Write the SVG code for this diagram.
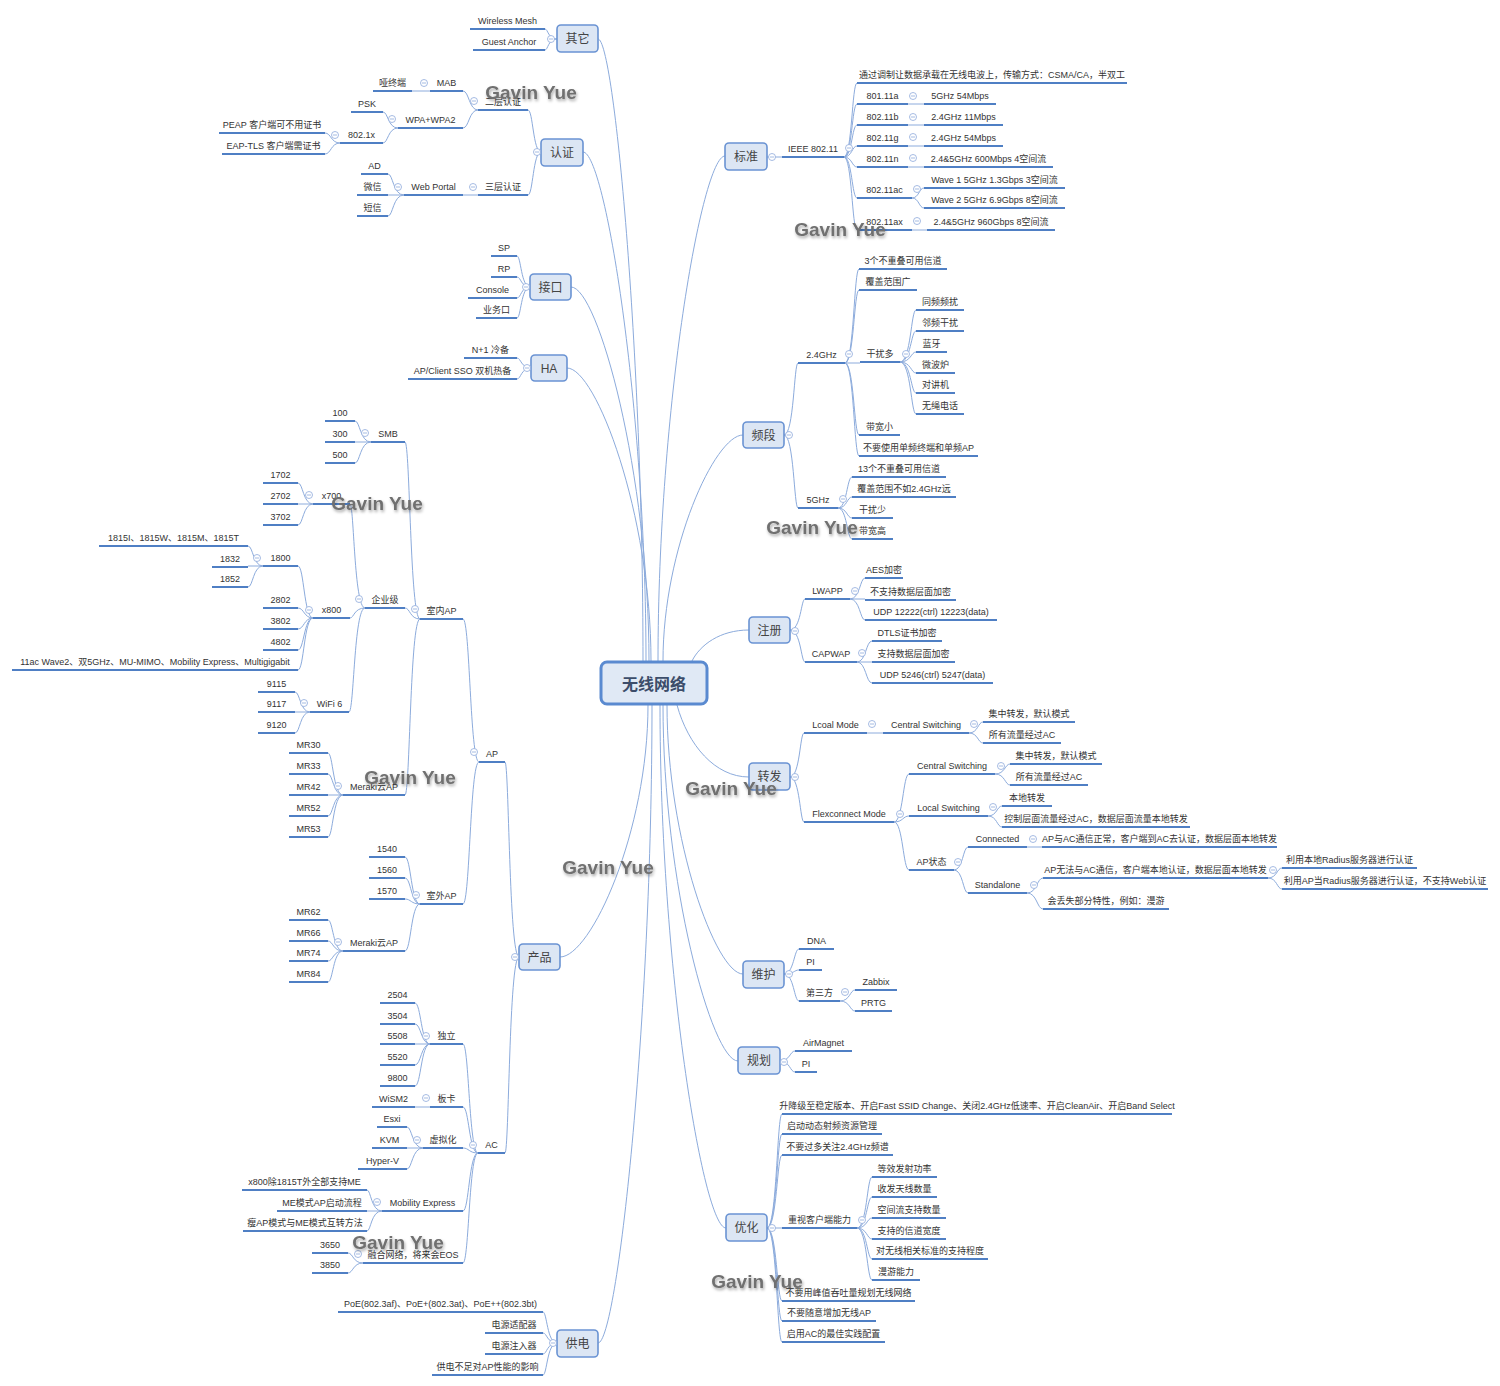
<svg xmlns="http://www.w3.org/2000/svg" xmlns:xlink="http://www.w3.org/1999/xlink" width="1500" height="1386" viewBox="0 0 1500 1386">
<style>
.t{font-family:"Liberation Sans","Noto Sans CJK SC",sans-serif;font-size:9px;fill:#333;text-anchor:middle}
.u{stroke:#4f7fc4;stroke-width:2;fill:none}
.c{stroke:#8cabdc;stroke-width:1;fill:none}
.b{fill:#dce6f4;stroke:#6a93d3;stroke-width:1.6}
.bt{font-family:"Liberation Sans","Noto Sans CJK SC",sans-serif;font-size:12px;fill:#444;text-anchor:middle}
.w{font-family:"Liberation Sans",sans-serif;font-weight:bold;font-size:19px;fill:#6f6f6f;text-anchor:middle}
</style>
<defs>
<g id="m"><circle r="3.5" fill="#fff" stroke="#8eaadb" stroke-width="0.8"/><path d="M-2 0H2" stroke="#8eaadb" stroke-width="0.8"/></g>
<filter id="sh" x="-10%" y="-40%" width="120%" height="180%"><feDropShadow dx="1" dy="2" stdDeviation="1.5" flood-color="#000" flood-opacity="0.35"/></filter>
</defs>
<rect width="1500" height="1386" fill="#fff"/>
<g id="connectors" class="c">
<path d="M643 661C643 350 614 39 598 39"/>
<path d="M646 661C646 406 605 152 583 152"/>
<path d="M649 661C649 474 598 287 571 287"/>
<path d="M651 661C651 514 596 368 567 368"/>
<path d="M658 661C658 408 702 156 725 156"/>
<path d="M663 661C663 548 715 435 743 435"/>
<path d="M692 661C700 645 720 630 749 630"/>
<path d="M677 705C688 745 715 777 749 777"/>
<path d="M667 705C667 840 716 974 743 974"/>
<path d="M663 705C663 883 712 1061 738 1061"/>
<path d="M660 705C660 966 703 1228 726 1228"/>
<path d="M648 705C648 831 591 957 560 957"/>
<path d="M652 705C652 1024 617 1343 598 1343"/>
<path d="M557 39C548 39 548 29 545 29M557 39C548 39 548 50 545 50"/>
<path d="M541 152C533 152 533 110 528 110M541 152C533 152 533 195 528 195"/>
<path d="M478 110C469 110 469 91 463 91M478 110C469 110 469 128 463 128M430 91H412"/>
<path d="M398 128C388 128 388 112 383 112M398 128C388 128 388 143 383 143"/>
<path d="M340 143C331 143 331 133 325 133M340 143C331 143 331 154 325 154"/>
<path d="M478 195H463M404 195C393 195 393 174 388 174M404 195H388M404 195C393 195 393 216 388 216"/>
<path d="M530 287C521 287 521 256 517 256M530 287C521 287 521 277 517 277M530 287C521 287 521 298 517 298M530 287C521 287 521 318 517 318"/>
<path d="M531 368C521 368 521 358 517 358M531 368C521 368 521 379 517 379"/>
<path d="M519 957C509 957 509 762 505 762M519 957C509 957 509 1153 505 1153"/>
<path d="M479 762C470 762 470 619 463 619M479 762C470 762 470 904 463 904"/>
<path d="M420 619C410 619 410 442 405 442M420 619C410 619 410 608 405 608M420 619C410 619 410 795 405 795"/>
<path d="M371 442C360 442 360 421 355 421M371 442H355M371 442C360 442 360 463 355 463"/>
<path d="M365 608C354 608 354 504 350 504M365 608C354 608 354 618 350 618M365 608C354 608 354 712 349 712"/>
<path d="M313 504C303 504 303 483 298 483M313 504H298M313 504C303 504 303 525 298 525"/>
<path d="M313 618C304 618 304 566 298 566M313 618C304 618 304 608 298 608M313 618C304 618 304 629 298 629M313 618C304 618 304 650 298 650M313 618C304 618 304 670 298 670"/>
<path d="M263 566C253 566 253 546 248 546M263 566H248M263 566C253 566 253 587 248 587"/>
<path d="M310 712C300 712 300 692 295 692M310 712H295M310 712C300 712 300 733 295 733"/>
<path d="M343 795C333 795 333 753 328 753M343 795C333 795 333 774 328 774M343 795H328M343 795C333 795 333 816 328 816M343 795C333 795 333 837 328 837"/>
<path d="M420 904C411 904 411 857 405 857M420 904C411 904 411 878 405 878M420 904C411 904 411 899 405 899M420 904C411 904 411 951 405 951"/>
<path d="M343 951C333 951 333 920 328 920M343 951C333 951 333 941 328 941M343 951C333 951 333 961 328 961M343 951C333 951 333 982 328 982"/>
<path d="M478 1153C469 1153 469 1044 463 1044M478 1153C469 1153 469 1107 463 1107M478 1153C469 1153 469 1148 463 1148M478 1153C469 1153 469 1211 463 1211M478 1153C469 1153 469 1263 463 1263"/>
<path d="M430 1044C421 1044 421 1003 415 1003M430 1044C421 1044 421 1024 415 1024M430 1044H415M430 1044C421 1044 421 1065 415 1065M430 1044C421 1044 421 1086 415 1086M430 1107H415"/>
<path d="M423 1148C412 1148 412 1127 407 1127M423 1148H407M423 1148C412 1148 412 1169 407 1169"/>
<path d="M382 1211C371 1211 371 1190 367 1190M382 1211H367M382 1211C371 1211 371 1231 367 1231"/>
<path d="M363 1263C353 1263 353 1253 348 1253M363 1263C353 1263 353 1273 348 1273"/>
<path d="M557 1343C547 1343 547 1312 543 1312M557 1343C547 1343 547 1333 543 1333M557 1343C547 1343 547 1354 543 1354M557 1343C547 1343 547 1375 543 1375"/>
<path d="M767 157H782M844 157C852 157 852 83 857 83M844 157C852 157 852 104 857 104M844 157C852 157 852 125 857 125M844 157C852 157 852 146 857 146M844 157C852 157 852 167 857 167M844 157C852 157 852 198 857 198M844 157C852 157 852 230 857 230"/>
<path d="M908 104H924M908 125H924M908 146H924M908 167H924M912 198C919 198 919 188 924 188M912 198C919 198 919 208 924 208M912 230H927"/>
<path d="M784 435C794 435 794 363 798 363M784 435C794 435 794 508 798 508"/>
<path d="M845 363C854 363 854 269 859 269M845 363C854 363 854 290 859 290M845 363H860M845 363C854 363 854 435 859 435M845 363C854 363 854 456 859 456"/>
<path d="M900 362C911 362 911 310 916 310M900 362C911 362 911 331 916 331M900 362C911 362 911 352 916 352M900 362C911 362 911 373 916 373M900 362C911 362 911 393 916 393M900 362C911 362 911 414 916 414"/>
<path d="M838 508C847 508 847 477 852 477M838 508C847 508 847 497 852 497M838 508C847 508 847 518 852 518M838 508C847 508 847 539 852 539"/>
<path d="M790 630C801 630 801 599 805 599M790 630C801 630 801 662 805 662"/>
<path d="M850 599C860 599 860 578 865 578M850 599H865M850 599C860 599 860 620 865 620"/>
<path d="M857 662C866 662 866 641 872 641M857 662H872M857 662C866 662 866 683 872 683"/>
<path d="M790 777C800 777 800 733 804 733M790 777C800 777 800 822 804 822M867 733H883M969 733C978 733 978 722 983 722M969 733C978 733 978 743 983 743"/>
<path d="M894 822C903 822 903 774 909 774M894 822C903 822 903 816 909 816M894 822C903 822 903 870 909 870"/>
<path d="M995 774C1005 774 1005 764 1010 764M995 774C1005 774 1005 785 1010 785M988 816C997 816 997 806 1002 806M988 816C997 816 997 827 1002 827"/>
<path d="M954 870C963 870 963 847 968 847M954 870C963 870 963 893 968 893M1027 847H1042M1027 893C1037 893 1037 878 1043 878M1027 893C1037 893 1037 909 1043 909M1268 878C1277 878 1277 868 1282 868M1268 878C1277 878 1277 889 1282 889"/>
<path d="M784 974C794 974 794 949 799 949M784 974C794 974 794 970 799 970M784 974C794 974 794 1001 799 1001M840 1001C850 1001 850 990 855 990M840 1001C850 1001 850 1011 855 1011"/>
<path d="M780 1061C790 1061 790 1051 795 1051M780 1061C790 1061 790 1072 795 1072"/>
<path d="M767 1228C777 1228 777 1114 782 1114M767 1228C777 1228 777 1134 782 1134M767 1228C777 1228 777 1155 782 1155M767 1228H782M767 1228C777 1228 777 1301 782 1301M767 1228C777 1228 777 1321 782 1321M767 1228C777 1228 777 1342 782 1342"/>
<path d="M857 1228C867 1228 867 1177 872 1177M857 1228C867 1228 867 1197 872 1197M857 1228C867 1228 867 1218 872 1218M857 1228C867 1228 867 1239 872 1239M857 1228C867 1228 867 1259 872 1259M857 1228C867 1228 867 1280 872 1280"/>
</g>
<g id="main"><rect x="601" y="662" width="106" height="42" rx="6" fill="#e0e9f5" stroke="#5a8ad0" stroke-width="3"/><text x="654" y="690" font-family="'Noto Sans CJK SC',sans-serif" font-size="16" font-weight="bold" fill="#3c4d6a" text-anchor="middle">无线网络</text></g>
<g id="b-qita"><rect class="b" x="557" y="25" width="41" height="27" rx="4"/><text class="bt" x="577.5" y="43">其它</text><use href="#m" x="551" y="39"/></g>
<g id="n-wm"><path class="u" d="M470 29H545"/><text class="t" x="507.5" y="23.5">Wireless Mesh</text></g>
<g id="n-ga"><path class="u" d="M473 50H545"/><text class="t" x="509" y="44.5">Guest Anchor</text></g>
<g id="b-renzheng"><rect class="b" x="541" y="139" width="42" height="27" rx="4"/><text class="bt" x="562" y="157">认证</text><use href="#m" x="537" y="152"/></g>
<g id="n-l2"><path class="u" d="M478 110H528"/><text class="t" x="503" y="104.5">二层认证</text><use href="#m" x="474" y="101"/></g>
<g id="n-mab"><path class="u" d="M430 91H463"/><text class="t" x="446.5" y="85.5">MAB</text><use href="#m" x="424" y="83"/></g>
<g id="n-dumb"><path class="u" d="M373 91H412"/><text class="t" x="392.5" y="85.5">哑终端</text></g>
<g id="n-wpa"><path class="u" d="M398 128H463"/><text class="t" x="430.5" y="122.5">WPA+WPA2</text><use href="#m" x="392" y="119"/></g>
<g id="n-psk"><path class="u" d="M351 112H383"/><text class="t" x="367" y="106.5">PSK</text></g>
<g id="n-8021x"><path class="u" d="M340 143H383"/><text class="t" x="361.5" y="137.5">802.1x</text><use href="#m" x="335" y="135"/></g>
<g id="n-peap"><path class="u" d="M219 133H325"/><text class="t" x="272" y="127.5">PEAP 客户端可不用证书</text></g>
<g id="n-eap"><path class="u" d="M222 154H325"/><text class="t" x="273.5" y="148.5">EAP-TLS 客户端需证书</text></g>
<g id="n-l3"><path class="u" d="M478 195H528"/><text class="t" x="503" y="189.5">三层认证</text><use href="#m" x="473" y="187"/></g>
<g id="n-wp"><path class="u" d="M404 195H463"/><text class="t" x="433.5" y="189.5">Web Portal</text><use href="#m" x="398" y="187"/></g>
<g id="n-ad"><path class="u" d="M361 174H388"/><text class="t" x="374.5" y="168.5">AD</text></g>
<g id="n-wx"><path class="u" d="M357 195H388"/><text class="t" x="372.5" y="189.5">微信</text></g>
<g id="n-sms"><path class="u" d="M357 216H388"/><text class="t" x="372.5" y="210.5">短信</text></g>
<g id="b-jiekou"><rect class="b" x="530" y="274" width="41" height="26" rx="4"/><text class="bt" x="550.5" y="291.5">接口</text><use href="#m" x="526" y="287"/></g>
<g id="n-sp"><path class="u" d="M491 256H517"/><text class="t" x="504" y="250.5">SP</text></g>
<g id="n-rp"><path class="u" d="M491 277H517"/><text class="t" x="504" y="271.5">RP</text></g>
<g id="n-con"><path class="u" d="M468 298H517"/><text class="t" x="492.5" y="292.5">Console</text></g>
<g id="n-biz"><path class="u" d="M476 318H517"/><text class="t" x="496.5" y="312.5">业务口</text></g>
<g id="b-ha"><rect class="b" x="531" y="355" width="36" height="26" rx="4"/><text class="bt" x="549" y="372.5">HA</text><use href="#m" x="527" y="368"/></g>
<g id="n-n1"><path class="u" d="M464 358H517"/><text class="t" x="490.5" y="352.5">N+1 冷备</text></g>
<g id="n-sso"><path class="u" d="M408 379H517"/><text class="t" x="462.5" y="373.5">AP/Client SSO 双机热备</text></g>
<g id="b-chanpin"><rect class="b" x="519" y="944" width="41" height="26" rx="4"/><text class="bt" x="539.5" y="961.5">产品</text><use href="#m" x="515" y="957"/></g>
<g id="n-ap"><path class="u" d="M479 762H505"/><text class="t" x="492" y="756.5">AP</text><use href="#m" x="474" y="752"/></g>
<g id="n-indoor"><path class="u" d="M420 619H463"/><text class="t" x="441.5" y="613.5">室内AP</text><use href="#m" x="415" y="609"/></g>
<g id="n-smb"><path class="u" d="M371 442H405"/><text class="t" x="388" y="436.5">SMB</text><use href="#m" x="365" y="433"/></g>
<g id="n-100"><path class="u" d="M325 421H355"/><text class="t" x="340" y="415.5">100</text></g>
<g id="n-300"><path class="u" d="M325 442H355"/><text class="t" x="340" y="436.5">300</text></g>
<g id="n-500"><path class="u" d="M325 463H355"/><text class="t" x="340" y="457.5">500</text></g>
<g id="n-ent"><path class="u" d="M365 608H405"/><text class="t" x="385" y="602.5">企业级</text><use href="#m" x="359" y="599"/></g>
<g id="n-x700"><path class="u" d="M313 504H350"/><text class="t" x="331.5" y="498.5">x700</text><use href="#m" x="309" y="495"/></g>
<g id="n-1702"><path class="u" d="M263 483H298"/><text class="t" x="280.5" y="477.5">1702</text></g>
<g id="n-2702"><path class="u" d="M263 504H298"/><text class="t" x="280.5" y="498.5">2702</text></g>
<g id="n-3702"><path class="u" d="M263 525H298"/><text class="t" x="280.5" y="519.5">3702</text></g>
<g id="n-x800"><path class="u" d="M313 618H350"/><text class="t" x="331.5" y="612.5">x800</text><use href="#m" x="309" y="610"/></g>
<g id="n-1800"><path class="u" d="M263 566H298"/><text class="t" x="280.5" y="560.5">1800</text><use href="#m" x="257" y="558"/></g>
<g id="n-1815"><path class="u" d="M99 546H248"/><text class="t" x="173.5" y="540.5">1815I、1815W、1815M、1815T</text></g>
<g id="n-1832"><path class="u" d="M212 567H248"/><text class="t" x="230" y="561.5">1832</text></g>
<g id="n-1852"><path class="u" d="M212 587H248"/><text class="t" x="230" y="581.5">1852</text></g>
<g id="n-2802"><path class="u" d="M263 608H298"/><text class="t" x="280.5" y="602.5">2802</text></g>
<g id="n-3802"><path class="u" d="M263 629H298"/><text class="t" x="280.5" y="623.5">3802</text></g>
<g id="n-4802"><path class="u" d="M263 650H298"/><text class="t" x="280.5" y="644.5">4802</text></g>
<g id="n-11ac"><path class="u" d="M12 670H298"/><text class="t" x="155" y="664.5">11ac Wave2、双5GHz、MU-MIMO、Mobility Express、Multigigabit</text></g>
<g id="n-wifi6"><path class="u" d="M310 712H349"/><text class="t" x="329.5" y="706.5">WiFi 6</text><use href="#m" x="304" y="703"/></g>
<g id="n-9115"><path class="u" d="M258 692H295"/><text class="t" x="276.5" y="686.5">9115</text></g>
<g id="n-9117"><path class="u" d="M258 712H295"/><text class="t" x="276.5" y="706.5">9117</text></g>
<g id="n-9120"><path class="u" d="M258 733H295"/><text class="t" x="276.5" y="727.5">9120</text></g>
<g id="n-merakiin"><path class="u" d="M343 795H405"/><text class="t" x="374" y="789.5">Meraki云AP</text><use href="#m" x="338" y="786"/></g>
<g id="n-mr30"><path class="u" d="M289 753H328"/><text class="t" x="308.5" y="747.5">MR30</text></g>
<g id="n-mr33"><path class="u" d="M289 774H328"/><text class="t" x="308.5" y="768.5">MR33</text></g>
<g id="n-mr42"><path class="u" d="M289 795H328"/><text class="t" x="308.5" y="789.5">MR42</text></g>
<g id="n-mr52"><path class="u" d="M289 816H328"/><text class="t" x="308.5" y="810.5">MR52</text></g>
<g id="n-mr53"><path class="u" d="M289 837H328"/><text class="t" x="308.5" y="831.5">MR53</text></g>
<g id="n-outdoor"><path class="u" d="M420 904H463"/><text class="t" x="441.5" y="898.5">室外AP</text><use href="#m" x="416" y="895"/></g>
<g id="n-1540"><path class="u" d="M369 857H405"/><text class="t" x="387" y="851.5">1540</text></g>
<g id="n-1560"><path class="u" d="M369 878H405"/><text class="t" x="387" y="872.5">1560</text></g>
<g id="n-1570"><path class="u" d="M369 899H405"/><text class="t" x="387" y="893.5">1570</text></g>
<g id="n-merakiout"><path class="u" d="M343 951H405"/><text class="t" x="374" y="945.5">Meraki云AP</text><use href="#m" x="338" y="942"/></g>
<g id="n-mr62"><path class="u" d="M289 920H328"/><text class="t" x="308.5" y="914.5">MR62</text></g>
<g id="n-mr66"><path class="u" d="M289 941H328"/><text class="t" x="308.5" y="935.5">MR66</text></g>
<g id="n-mr74"><path class="u" d="M289 961H328"/><text class="t" x="308.5" y="955.5">MR74</text></g>
<g id="n-mr84"><path class="u" d="M289 982H328"/><text class="t" x="308.5" y="976.5">MR84</text></g>
<g id="n-ac"><path class="u" d="M478 1153H505"/><text class="t" x="491.5" y="1147.5">AC</text><use href="#m" x="473" y="1145"/></g>
<g id="n-duli"><path class="u" d="M430 1044H463"/><text class="t" x="446.5" y="1038.5">独立</text><use href="#m" x="426" y="1036"/></g>
<g id="n-2504"><path class="u" d="M380 1003H415"/><text class="t" x="397.5" y="997.5">2504</text></g>
<g id="n-3504"><path class="u" d="M380 1024H415"/><text class="t" x="397.5" y="1018.5">3504</text></g>
<g id="n-5508"><path class="u" d="M380 1044H415"/><text class="t" x="397.5" y="1038.5">5508</text></g>
<g id="n-5520"><path class="u" d="M380 1065H415"/><text class="t" x="397.5" y="1059.5">5520</text></g>
<g id="n-9800"><path class="u" d="M380 1086H415"/><text class="t" x="397.5" y="1080.5">9800</text></g>
<g id="n-card"><path class="u" d="M430 1107H463"/><text class="t" x="446.5" y="1101.5">板卡</text><use href="#m" x="426" y="1098"/></g>
<g id="n-wism2"><path class="u" d="M372 1107H415"/><text class="t" x="393.5" y="1101.5">WiSM2</text></g>
<g id="n-virt"><path class="u" d="M423 1148H463"/><text class="t" x="443" y="1142.5">虚拟化</text><use href="#m" x="417" y="1140"/></g>
<g id="n-esxi"><path class="u" d="M377 1127H407"/><text class="t" x="392" y="1121.5">Esxi</text></g>
<g id="n-kvm"><path class="u" d="M372 1148H407"/><text class="t" x="389.5" y="1142.5">KVM</text></g>
<g id="n-hyperv"><path class="u" d="M358 1169H407"/><text class="t" x="382.5" y="1163.5">Hyper-V</text></g>
<g id="n-me"><path class="u" d="M382 1211H463"/><text class="t" x="422.5" y="1205.5">Mobility Express</text><use href="#m" x="377" y="1202"/></g>
<g id="n-me1"><path class="u" d="M242 1190H367"/><text class="t" x="304.5" y="1184.5">x800除1815T外全部支持ME</text></g>
<g id="n-me2"><path class="u" d="M277 1211H367"/><text class="t" x="322" y="1205.5">ME模式AP启动流程</text></g>
<g id="n-me3"><path class="u" d="M243 1231H367"/><text class="t" x="305" y="1225.5">瘦AP模式与ME模式互转方法</text></g>
<g id="n-conv"><path class="u" d="M363 1263H463"/><text class="t" x="413" y="1257.5">融合网络，将来会EOS</text><use href="#m" x="358" y="1254"/></g>
<g id="n-3650"><path class="u" d="M312 1253H348"/><text class="t" x="330" y="1247.5">3650</text></g>
<g id="n-3850"><path class="u" d="M312 1273H348"/><text class="t" x="330" y="1267.5">3850</text></g>
<g id="b-gongdian"><rect class="b" x="557" y="1330" width="41" height="27" rx="4"/><text class="bt" x="577.5" y="1348">供电</text><use href="#m" x="553" y="1343"/></g>
<g id="n-poe"><path class="u" d="M338 1312H543"/><text class="t" x="440.5" y="1306.5">PoE(802.3af)、PoE+(802.3at)、PoE++(802.3bt)</text></g>
<g id="n-adapter"><path class="u" d="M485 1333H543"/><text class="t" x="514" y="1327.5">电源适配器</text></g>
<g id="n-injector"><path class="u" d="M485 1354H543"/><text class="t" x="514" y="1348.5">电源注入器</text></g>
<g id="n-lack"><path class="u" d="M432 1375H543"/><text class="t" x="487.5" y="1369.5">供电不足对AP性能的影响</text></g>
<g id="b-biaozhun"><rect class="b" x="725" y="143" width="42" height="27" rx="4"/><text class="bt" x="746" y="161">标准</text><use href="#m" x="772" y="157"/></g>
<g id="n-ieee"><path class="u" d="M782 157H844"/><text class="t" x="813" y="151.5">IEEE 802.11</text><use href="#m" x="849" y="148"/></g>
<g id="n-mod"><path class="u" d="M857 83H1127"/><text class="t" x="992" y="77.5">通过调制让数据承载在无线电波上，传输方式：CSMA/CA，半双工</text></g>
<g id="n-11a"><path class="u" d="M857 104H908"/><text class="t" x="882.5" y="98.5">801.11a</text><use href="#m" x="913" y="96"/></g>
<g id="n-11a1"><path class="u" d="M924 104H996"/><text class="t" x="960" y="98.5">5GHz 54Mbps</text></g>
<g id="n-11b"><path class="u" d="M857 125H908"/><text class="t" x="882.5" y="119.5">802.11b</text><use href="#m" x="913" y="117"/></g>
<g id="n-11b1"><path class="u" d="M924 125H1003"/><text class="t" x="963.5" y="119.5">2.4GHz 11Mbps</text></g>
<g id="n-11g"><path class="u" d="M857 146H908"/><text class="t" x="882.5" y="140.5">802.11g</text><use href="#m" x="913" y="137"/></g>
<g id="n-11g1"><path class="u" d="M924 146H1003"/><text class="t" x="963.5" y="140.5">2.4GHz 54Mbps</text></g>
<g id="n-11n"><path class="u" d="M857 167H908"/><text class="t" x="882.5" y="161.5">802.11n</text><use href="#m" x="913" y="158"/></g>
<g id="n-11n1"><path class="u" d="M924 167H1053"/><text class="t" x="988.5" y="161.5">2.4&amp;5GHz 600Mbps 4空间流</text></g>
<g id="n-11ac"><path class="u" d="M857 198H912"/><text class="t" x="884.5" y="192.5">802.11ac</text><use href="#m" x="917" y="189"/></g>
<g id="n-w1"><path class="u" d="M924 188H1065"/><text class="t" x="994.5" y="182.5">Wave 1 5GHz 1.3Gbps 3空间流</text></g>
<g id="n-w2"><path class="u" d="M924 208H1065"/><text class="t" x="994.5" y="202.5">Wave 2 5GHz 6.9Gbps 8空间流</text></g>
<g id="n-11ax"><path class="u" d="M857 230H912"/><text class="t" x="884.5" y="224.5">802.11ax</text><use href="#m" x="917" y="221"/></g>
<g id="n-11ax1"><path class="u" d="M927 230H1055"/><text class="t" x="991" y="224.5">2.4&amp;5GHz 960Gbps 8空间流</text></g>
<g id="b-pinduan"><rect class="b" x="743" y="422" width="41" height="26" rx="4"/><text class="bt" x="763.5" y="439.5">频段</text><use href="#m" x="789" y="435"/></g>
<g id="n-24"><path class="u" d="M798 363H845"/><text class="t" x="821.5" y="357.5">2.4GHz</text><use href="#m" x="849" y="354"/></g>
<g id="n-24a"><path class="u" d="M859 269H947"/><text class="t" x="903" y="263.5">3个不重叠可用信道</text></g>
<g id="n-24b"><path class="u" d="M859 290H917"/><text class="t" x="888" y="284.5">覆盖范围广</text></g>
<g id="n-24c"><path class="u" d="M860 362H900"/><text class="t" x="880" y="356.5">干扰多</text><use href="#m" x="906" y="354"/></g>
<g id="n-i1"><path class="u" d="M916 310H964"/><text class="t" x="940" y="304.5">同频频扰</text></g>
<g id="n-i2"><path class="u" d="M916 331H964"/><text class="t" x="940" y="325.5">邻频干扰</text></g>
<g id="n-i3"><path class="u" d="M916 352H947"/><text class="t" x="931.5" y="346.5">蓝牙</text></g>
<g id="n-i4"><path class="u" d="M916 373H955"/><text class="t" x="935.5" y="367.5">微波炉</text></g>
<g id="n-i5"><path class="u" d="M916 393H955"/><text class="t" x="935.5" y="387.5">对讲机</text></g>
<g id="n-i6"><path class="u" d="M916 414H964"/><text class="t" x="940" y="408.5">无绳电话</text></g>
<g id="n-24d"><path class="u" d="M859 435H900"/><text class="t" x="879.5" y="429.5">带宽小</text></g>
<g id="n-24e"><path class="u" d="M859 456H978"/><text class="t" x="918.5" y="450.5">不要使用单频终端和单频AP</text></g>
<g id="n-5g"><path class="u" d="M798 508H838"/><text class="t" x="818" y="502.5">5GHz</text><use href="#m" x="843" y="499"/></g>
<g id="n-5ga"><path class="u" d="M852 477H946"/><text class="t" x="899" y="471.5">13个不重叠可用信道</text></g>
<g id="n-5gb"><path class="u" d="M852 497H956"/><text class="t" x="904" y="491.5">覆盖范围不如2.4GHz远</text></g>
<g id="n-5gc"><path class="u" d="M852 518H893"/><text class="t" x="872.5" y="512.5">干扰少</text></g>
<g id="n-5gd"><path class="u" d="M852 539H893"/><text class="t" x="872.5" y="533.5">带宽高</text></g>
<g id="b-zhuce"><rect class="b" x="749" y="617" width="41" height="26" rx="4"/><text class="bt" x="769.5" y="634.5">注册</text><use href="#m" x="795" y="631"/></g>
<g id="n-lwapp"><path class="u" d="M805 599H850"/><text class="t" x="827.5" y="593.5">LWAPP</text><use href="#m" x="855" y="591"/></g>
<g id="n-lw1"><path class="u" d="M865 578H903"/><text class="t" x="884" y="572.5">AES加密</text></g>
<g id="n-lw2"><path class="u" d="M865 600H956"/><text class="t" x="910.5" y="594.5">不支持数据层面加密</text></g>
<g id="n-lw3"><path class="u" d="M865 620H997"/><text class="t" x="931" y="614.5">UDP 12222(ctrl) 12223(data)</text></g>
<g id="n-capwap"><path class="u" d="M805 662H857"/><text class="t" x="831" y="656.5">CAPWAP</text><use href="#m" x="862" y="653"/></g>
<g id="n-cw1"><path class="u" d="M872 641H942"/><text class="t" x="907" y="635.5">DTLS证书加密</text></g>
<g id="n-cw2"><path class="u" d="M872 662H955"/><text class="t" x="913.5" y="656.5">支持数据层面加密</text></g>
<g id="n-cw3"><path class="u" d="M872 683H993"/><text class="t" x="932.5" y="677.5">UDP 5246(ctrl) 5247(data)</text></g>
<g id="b-zhuanfa"><rect class="b" x="749" y="763" width="41" height="27" rx="4"/><text class="bt" x="769.5" y="781">转发</text><use href="#m" x="795" y="777"/></g>
<g id="n-local"><path class="u" d="M804 733H867"/><text class="t" x="835.5" y="727.5">Lcoal Mode</text><use href="#m" x="872" y="724"/></g>
<g id="n-cs1"><path class="u" d="M883 733H969"/><text class="t" x="926" y="727.5">Central Switching</text><use href="#m" x="974" y="724"/></g>
<g id="n-cs1a"><path class="u" d="M983 722H1075"/><text class="t" x="1029" y="716.5">集中转发，默认模式</text></g>
<g id="n-cs1b"><path class="u" d="M983 743H1061"/><text class="t" x="1022" y="737.5">所有流量经过AC</text></g>
<g id="n-flex"><path class="u" d="M804 822H894"/><text class="t" x="849" y="816.5">Flexconnect Mode</text><use href="#m" x="900" y="814"/></g>
<g id="n-cs2"><path class="u" d="M909 774H995"/><text class="t" x="952" y="768.5">Central Switching</text><use href="#m" x="1001" y="766"/></g>
<g id="n-cs2a"><path class="u" d="M1010 764H1102"/><text class="t" x="1056" y="758.5">集中转发，默认模式</text></g>
<g id="n-cs2b"><path class="u" d="M1010 785H1088"/><text class="t" x="1049" y="779.5">所有流量经过AC</text></g>
<g id="n-ls"><path class="u" d="M909 816H988"/><text class="t" x="948.5" y="810.5">Local Switching</text><use href="#m" x="993" y="807"/></g>
<g id="n-lsa"><path class="u" d="M1002 806H1052"/><text class="t" x="1027" y="800.5">本地转发</text></g>
<g id="n-lsb"><path class="u" d="M1002 827H1190"/><text class="t" x="1096" y="821.5">控制层面流量经过AC，数据层面流量本地转发</text></g>
<g id="n-apst"><path class="u" d="M909 870H954"/><text class="t" x="931.5" y="864.5">AP状态</text><use href="#m" x="958" y="862"/></g>
<g id="n-conn"><path class="u" d="M968 847H1027"/><text class="t" x="997.5" y="841.5">Connected</text><use href="#m" x="1033" y="839"/></g>
<g id="n-conna"><path class="u" d="M1042 847H1277"/><text class="t" x="1159.5" y="841.5">AP与AC通信正常，客户端到AC去认证，数据层面本地转发</text></g>
<g id="n-sa"><path class="u" d="M968 893H1027"/><text class="t" x="997.5" y="887.5">Standalone</text><use href="#m" x="1034" y="885"/></g>
<g id="n-saa"><path class="u" d="M1043 878H1268"/><text class="t" x="1155.5" y="872.5">AP无法与AC通信，客户端本地认证，数据层面本地转发</text><use href="#m" x="1273" y="870"/></g>
<g id="n-r1"><path class="u" d="M1282 868H1417"/><text class="t" x="1349.5" y="862.5">利用本地Radius服务器进行认证</text></g>
<g id="n-r2"><path class="u" d="M1282 889H1488"/><text class="t" x="1385" y="883.5">利用AP当Radius服务器进行认证，不支持Web认证</text></g>
<g id="n-sab"><path class="u" d="M1043 909H1169"/><text class="t" x="1106" y="903.5">会丢失部分特性，例如：漫游</text></g>
<g id="b-weihu"><rect class="b" x="743" y="961" width="41" height="27" rx="4"/><text class="bt" x="763.5" y="979">维护</text><use href="#m" x="789" y="974"/></g>
<g id="n-dna"><path class="u" d="M799 949H834"/><text class="t" x="816.5" y="943.5">DNA</text></g>
<g id="n-pi1"><path class="u" d="M799 970H822"/><text class="t" x="810.5" y="964.5">PI</text></g>
<g id="n-3rd"><path class="u" d="M799 1001H840"/><text class="t" x="819.5" y="995.5">第三方</text><use href="#m" x="845" y="992"/></g>
<g id="n-zab"><path class="u" d="M855 990H897"/><text class="t" x="876" y="984.5">Zabbix</text></g>
<g id="n-prtg"><path class="u" d="M855 1011H892"/><text class="t" x="873.5" y="1005.5">PRTG</text></g>
<g id="b-guihua"><rect class="b" x="738" y="1047" width="42" height="27" rx="4"/><text class="bt" x="759" y="1065">规划</text><use href="#m" x="784" y="1062"/></g>
<g id="n-airm"><path class="u" d="M795 1051H852"/><text class="t" x="823.5" y="1045.5">AirMagnet</text></g>
<g id="n-pi2"><path class="u" d="M795 1072H817"/><text class="t" x="806" y="1066.5">PI</text></g>
<g id="b-youhua"><rect class="b" x="726" y="1214" width="41" height="27" rx="4"/><text class="bt" x="746.5" y="1232">优化</text><use href="#m" x="772" y="1228"/></g>
<g id="n-o1"><path class="u" d="M782 1114H1172"/><text class="t" x="977" y="1108.5">升降级至稳定版本、开启Fast SSID Change、关闭2.4GHz低速率、开启CleanAir、开启Band Select</text></g>
<g id="n-o2"><path class="u" d="M782 1134H882"/><text class="t" x="832" y="1128.5">启动动态射频资源管理</text></g>
<g id="n-o3"><path class="u" d="M782 1155H893"/><text class="t" x="837.5" y="1149.5">不要过多关注2.4GHz频谱</text></g>
<g id="n-o4"><path class="u" d="M782 1228H857"/><text class="t" x="819.5" y="1222.5">重视客户端能力</text><use href="#m" x="862" y="1220"/></g>
<g id="n-o4a"><path class="u" d="M872 1177H937"/><text class="t" x="904.5" y="1171.5">等效发射功率</text></g>
<g id="n-o4b"><path class="u" d="M872 1197H937"/><text class="t" x="904.5" y="1191.5">收发天线数量</text></g>
<g id="n-o4c"><path class="u" d="M872 1218H946"/><text class="t" x="909" y="1212.5">空间流支持数量</text></g>
<g id="n-o4d"><path class="u" d="M872 1239H946"/><text class="t" x="909" y="1233.5">支持的信道宽度</text></g>
<g id="n-o4e"><path class="u" d="M872 1259H988"/><text class="t" x="930" y="1253.5">对无线相关标准的支持程度</text></g>
<g id="n-o4f"><path class="u" d="M872 1280H920"/><text class="t" x="896" y="1274.5">漫游能力</text></g>
<g id="n-o5"><path class="u" d="M782 1301H915"/><text class="t" x="848.5" y="1295.5">不要用峰值吞吐量规划无线网络</text></g>
<g id="n-o6"><path class="u" d="M782 1321H876"/><text class="t" x="829" y="1315.5">不要随意增加无线AP</text></g>
<g id="n-o7"><path class="u" d="M782 1342H885"/><text class="t" x="833.5" y="1336.5">启用AC的最佳实践配置</text></g>
<g id="watermarks" class="w" filter="url(#sh)">
<text x="531" y="99">Gavin Yue</text>
<text x="840" y="236">Gavin Yue</text>
<text x="377" y="510">Gavin Yue</text>
<text x="812" y="534">Gavin Yue</text>
<text x="410" y="784">Gavin Yue</text>
<text x="731" y="795">Gavin Yue</text>
<text x="608" y="874">Gavin Yue</text>
<text x="398" y="1249">Gavin Yue</text>
<text x="757" y="1288">Gavin Yue</text>
</g>
</svg>
